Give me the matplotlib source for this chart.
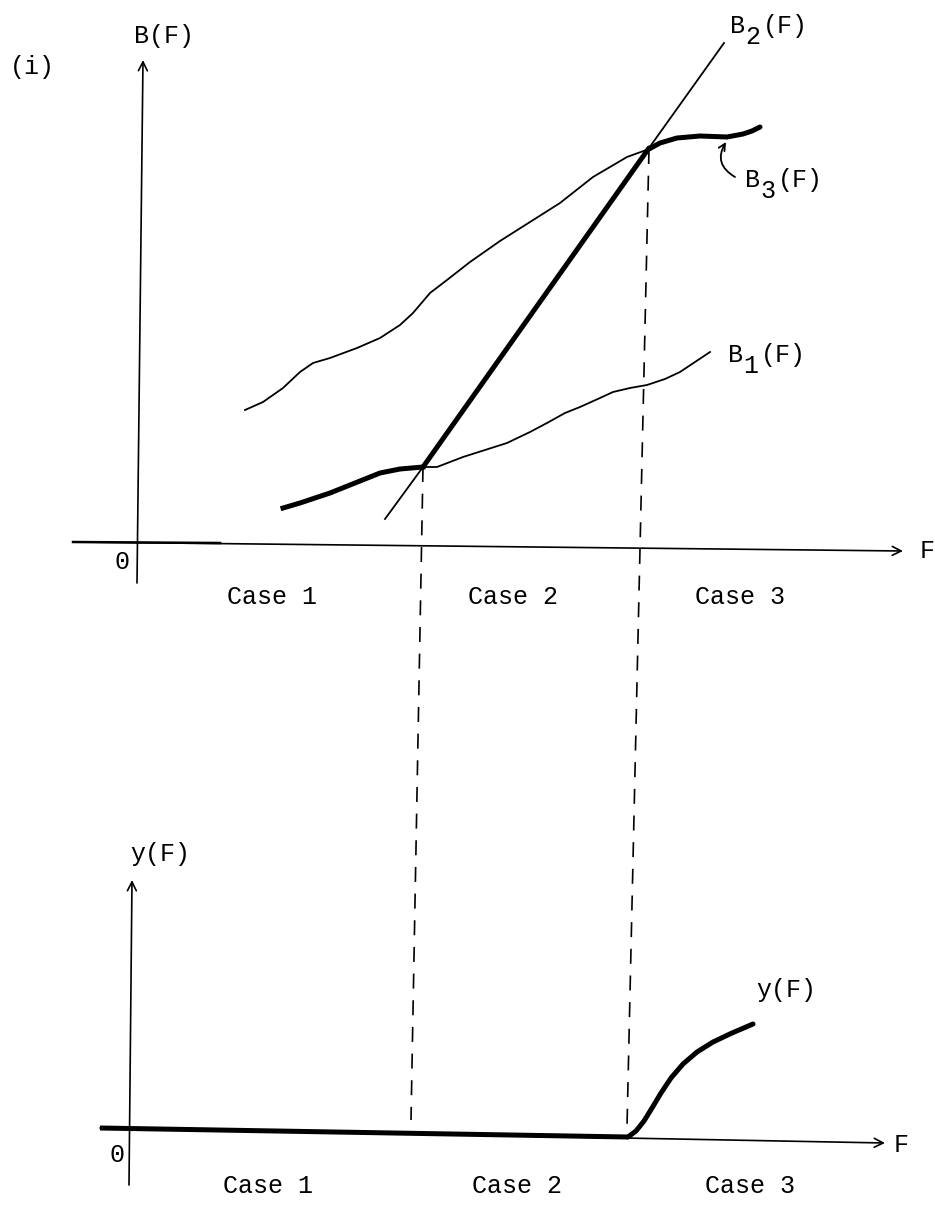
import matplotlib
matplotlib.use("Agg")
import matplotlib.pyplot as plt

# ── Curves (page pixel coordinates, y grows downward) ─────────────────────────

# upper panel: B1 thick part (case 1) and thin continuation
b1_thick_x = [283, 300, 330, 355, 380, 400, 423]
b1_thick_y = [508, 503, 493, 483, 473, 469, 467]
b1_thin_x = [423, 437, 463, 485, 507, 530, 547, 565, 580, 600, 613, 630, 647, 665, 680, 695, 710]
b1_thin_y = [467, 467, 457, 450, 443, 432, 423, 413, 407, 398, 392, 388, 385, 379, 372, 362, 352]

# B2 straight line: start, kink into case 2, kink out of case 2, end
b2_x = [385, 423, 649, 724]
b2_y = [519, 467, 148, 43]

# B3: thin lower part, thick part in case 3
b3_thin_x = [245, 263, 283, 300, 313, 330, 357, 380, 400, 413, 430, 447, 470, 500, 530, 560, 593, 627, 649]
b3_thin_y = [410, 402, 388, 372, 363, 358, 348, 338, 325, 313, 293, 280, 262, 241, 222, 203, 177, 157, 149]
b3_thick_x = [649, 660, 677, 700, 727, 743, 752, 760]
b3_thick_y = [149, 143, 138, 136, 137, 134, 131, 127]

# lower panel: y(F) zero then rising
yf_flat_x = [100, 628]
yf_flat_y = [1128, 1137]
yf_rise_x = [628, 636, 644, 652, 661, 671, 683, 697, 713, 732, 753]
yf_rise_y = [1137, 1131, 1121, 1108, 1093, 1078, 1064, 1052, 1042, 1033, 1024]

# dashed case boundaries (top point, bottom point)
dash1_x, dash1_y = [423, 411], [467, 1120]
dash2_x, dash2_y = [649, 627], [149, 1127]

case_labels = ["Case 1", "Case 2", "Case 3"]
case_x_top = [272, 513, 740]
case_x_bot = [268, 517, 750]

FONT = "Liberation Mono"
FS = 18
THIN = 1.3
THICK = 3.6
AX = 1.2

fig = plt.figure(figsize=(9.35, 12.07), dpi=100)
ax = fig.add_axes([0, 0, 1, 1])
ax.set_xlim(0, 935)
ax.set_ylim(1207, 0)
ax.axis("off")


def txt(x, y, s, **kw):
    ax.text(x, y, s, family=FONT, fontsize=FS, ha="left", va="center", **kw)


def sub_label(x, y, base, sub, rest):
    # monospace label with a lowered subscript digit
    cw = 15
    txt(x, y, base)
    txt(x + cw, y + 11, sub)
    txt(x + 2 * cw + 3, y, rest)


def arrow_axis(x0, y0, x1, y1):
    ax.annotate("", xy=(x1, y1), xytext=(x0, y0),
                arrowprops=dict(arrowstyle="->", lw=AX, color="black",
                                mutation_scale=16, shrinkA=0, shrinkB=0))


# ── Upper panel ──────────────────────────────────────────────────────────────
arrow_axis(137, 583, 143, 60)
arrow_axis(73, 542, 903, 551)
ax.plot([73, 220], [542, 543], color="black", lw=1.8)

ax.plot(b3_thin_x, b3_thin_y, color="black", lw=THIN, solid_joinstyle="round")
ax.plot(b3_thick_x, b3_thick_y, color="black", lw=THICK, solid_capstyle="round",
        solid_joinstyle="round")
ax.plot(b1_thick_x, b1_thick_y, color="black", lw=THICK, solid_joinstyle="round")
ax.plot(b1_thin_x, b1_thin_y, color="black", lw=THIN, solid_joinstyle="round")
ax.plot(b2_x[:2], b2_y[:2], color="black", lw=THIN)
ax.plot(b2_x[1:3], b2_y[1:3], color="black", lw=THICK, solid_capstyle="round")
ax.plot(b2_x[2:], b2_y[2:], color="black", lw=THIN)

for xs, ys in [(dash1_x, dash1_y), (dash2_x, dash2_y)]:
    ax.plot(xs, ys, color="black", lw=1.2, dashes=(9, 7))

ax.text(32, 67, "(i)", family=FONT, fontsize=FS, ha="center", va="center")
ax.text(164, 36, "B(F)", family=FONT, fontsize=FS, ha="center", va="center")
ax.text(122, 562, "0", family=FONT, fontsize=FS, ha="center", va="center")
ax.text(927, 551, "F", family=FONT, fontsize=FS, ha="center", va="center")
sub_label(730, 26, "B", "2", "(F)")
sub_label(728, 355, "B", "1", "(F)")
sub_label(745, 180, "B", "3", "(F)")
ax.annotate("", xy=(726, 142), xytext=(735, 177),
            arrowprops=dict(arrowstyle="->", lw=THIN, color="black",
                            mutation_scale=12, shrinkA=0, shrinkB=0,
                            connectionstyle="arc3,rad=-0.5"))

for lab, cx in zip(case_labels, case_x_top):
    ax.text(cx, 597, lab, family=FONT, fontsize=FS, ha="center", va="center")

# ── Lower panel ──────────────────────────────────────────────────────────────
arrow_axis(129, 1185, 132, 880)
arrow_axis(100, 1128, 885, 1143)

ax.plot(yf_flat_x, yf_flat_y, color="black", lw=THICK, solid_capstyle="butt")
ax.plot(yf_rise_x, yf_rise_y, color="black", lw=THICK, solid_capstyle="round",
        solid_joinstyle="round")

ax.text(160, 854, "y(F)", family=FONT, fontsize=FS, ha="center", va="center")
ax.text(117, 1155, "0", family=FONT, fontsize=FS, ha="center", va="center")
ax.text(901, 1145, "F", family=FONT, fontsize=FS, ha="center", va="center")
ax.text(786, 990, "y(F)", family=FONT, fontsize=FS, ha="center", va="center")

for lab, cx in zip(case_labels, case_x_bot):
    ax.text(cx, 1186, lab, family=FONT, fontsize=FS, ha="center", va="center")

fig.savefig("out.png", dpi=100, facecolor="white")
